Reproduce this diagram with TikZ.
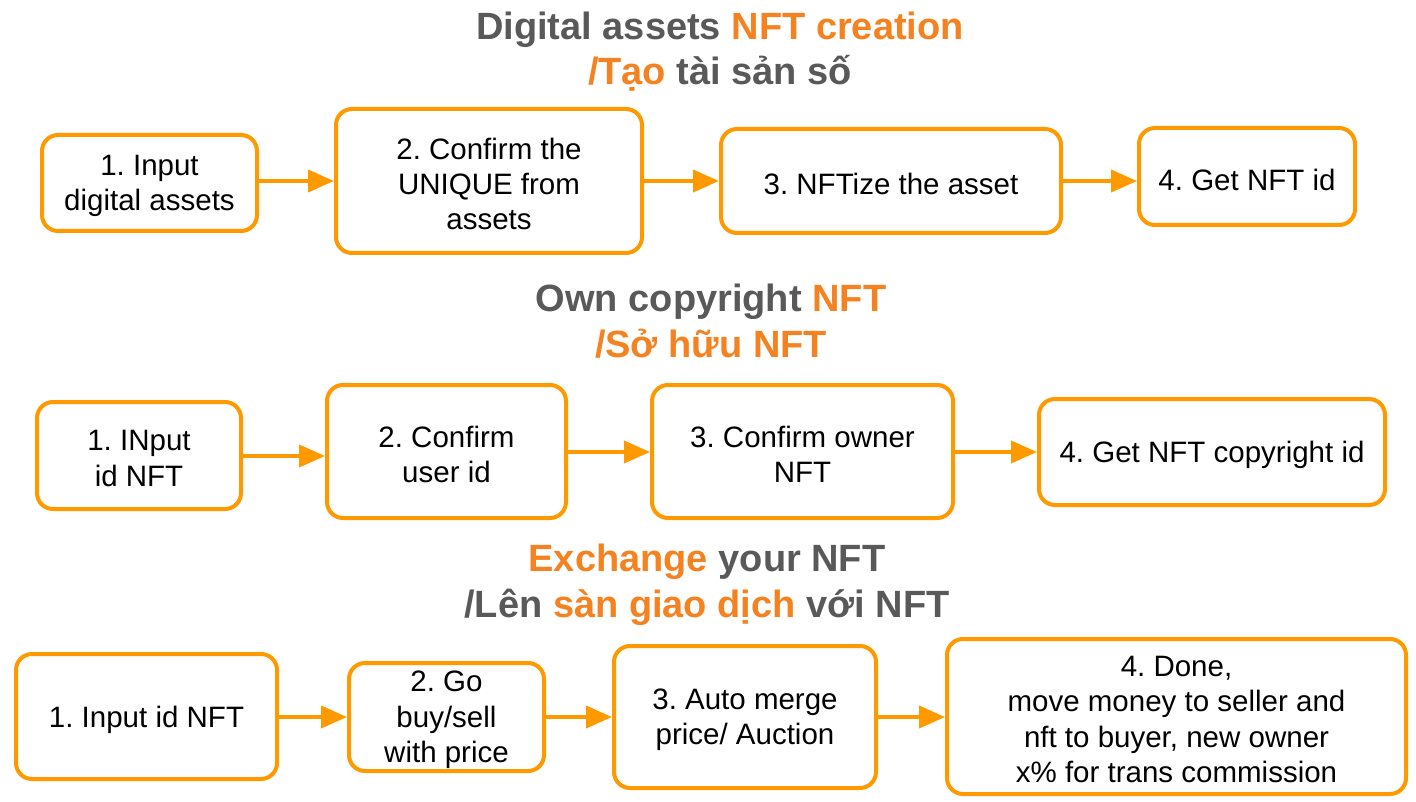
\documentclass[tikz,border=0pt]{standalone}
\usepackage{fontspec}
\setmainfont{Liberation Sans}
\usetikzlibrary{arrows.meta}
\definecolor{tgrey}{RGB}{89,89,89}
\definecolor{torange}{RGB}{245,130,32}
\definecolor{boxorange}{RGB}{255,153,0}
\tikzset{
  stepbox/.style={draw=boxorange, line width=4pt, rounded corners=16pt, fill=white, inner sep=0pt},
  boxtext/.style={align=center, inner sep=0pt, font=\fontsize{29.5}{35.4}\selectfont\frenchspacing},
  conn/.style={draw=boxorange, line width=4pt, -{Triangle[length=26pt,width=22pt]}},
  ttl/.style={align=center, text=tgrey, font=\fontsize{38}{45.6}\selectfont\bfseries}
}
\newcommand{\og}[1]{\textcolor{torange}{#1}}
\newcommand{\boxlabel}[2]{\node[boxtext] (#1txt) at ([yshift=-3pt]#1.center) {#2};}
\frenchspacing
\begin{document}
\begin{tikzpicture}[x=1pt,y=-1pt]
\useasboundingbox (0,0) rectangle (1416,802);
% titles
\node[ttl] (t1) at (720,51.5) {Digital assets \og{NFT creation}\\\og{/Tạo} tài sản số};
\node[ttl] (t2) at (711,321) {Own copyright \og{NFT}\\\og{/Sở hữu NFT}};
\node[ttl] (t3) at (707,585) {\og{Exchange} your NFT\\/Lên \og{sàn giao dịch} với NFT};
% row 1
\node[stepbox, minimum width=215pt, minimum height=96pt] (b1) at (149.5,183) {};
\node[stepbox, minimum width=306pt, minimum height=144pt] (b2) at (489,181) {};
\node[stepbox, minimum width=340pt, minimum height=104pt] (b3) at (891,181) {};
\node[stepbox, minimum width=216pt, minimum height=97pt] (b4) at (1247,176.5) {};
\boxlabel{b1}{1. Input\\digital assets}
\boxlabel{b2}{2. Confirm the\\UNIQUE from\\assets}
\boxlabel{b3}{3. NFTize the asset}
\boxlabel{b4}{4. Get NFT id}
\draw[conn] (b1.east |- 0,181) -- (b2.west |- 0,181);
\draw[conn] (b2.east |- 0,181) -- (b3.west |- 0,181);
\draw[conn] (b3.east |- 0,181) -- (b4.west |- 0,181);
% row 2
\node[stepbox, minimum width=204pt, minimum height=107pt] (c1) at (139,455.5) {};
\node[stepbox, minimum width=239pt, minimum height=133pt] (c2) at (446.5,451.5) {};
\node[stepbox, minimum width=301pt, minimum height=133pt] (c3) at (802.5,451.5) {};
\node[stepbox, minimum width=346pt, minimum height=106pt] (c4) at (1212,452) {};
\boxlabel{c1}{1. INput\\id NFT}
\boxlabel{c2}{2. Confirm\\user id}
\boxlabel{c3}{3. Confirm owner\\NFT}
\boxlabel{c4}{4. Get NFT copyright id}
\draw[conn] (c1.east |- 0,456) -- (c2.west |- 0,456);
\draw[conn] (c2.east |- 0,452) -- (c3.west |- 0,452);
\draw[conn] (c3.east |- 0,452) -- (c4.west |- 0,452);
% row 3
\node[stepbox, minimum width=261pt, minimum height=125pt] (d1) at (146.5,716.5) {};
\node[stepbox, minimum width=195pt, minimum height=108pt] (d2) at (446.5,717) {};
\node[stepbox, minimum width=262pt, minimum height=142pt] (d3) at (745,717) {};
\node[stepbox, minimum width=459pt, minimum height=155pt] (d4) at (1176.5,716.5) {};
\boxlabel{d1}{1. Input id NFT}
\boxlabel{d2}{2. Go\\buy/sell\\with price}
\boxlabel{d3}{3. Auto merge\\price/ Auction}
\boxlabel{d4}{4. Done,\\move money to seller and\\nft to buyer, new owner\\x\% for trans commission}
\draw[conn] (d1.east |- 0,717) -- (d2.west |- 0,717);
\draw[conn] (d2.east |- 0,717) -- (d3.west |- 0,717);
\draw[conn] (d3.east |- 0,717) -- (d4.west |- 0,717);
\end{tikzpicture}
\end{document}
